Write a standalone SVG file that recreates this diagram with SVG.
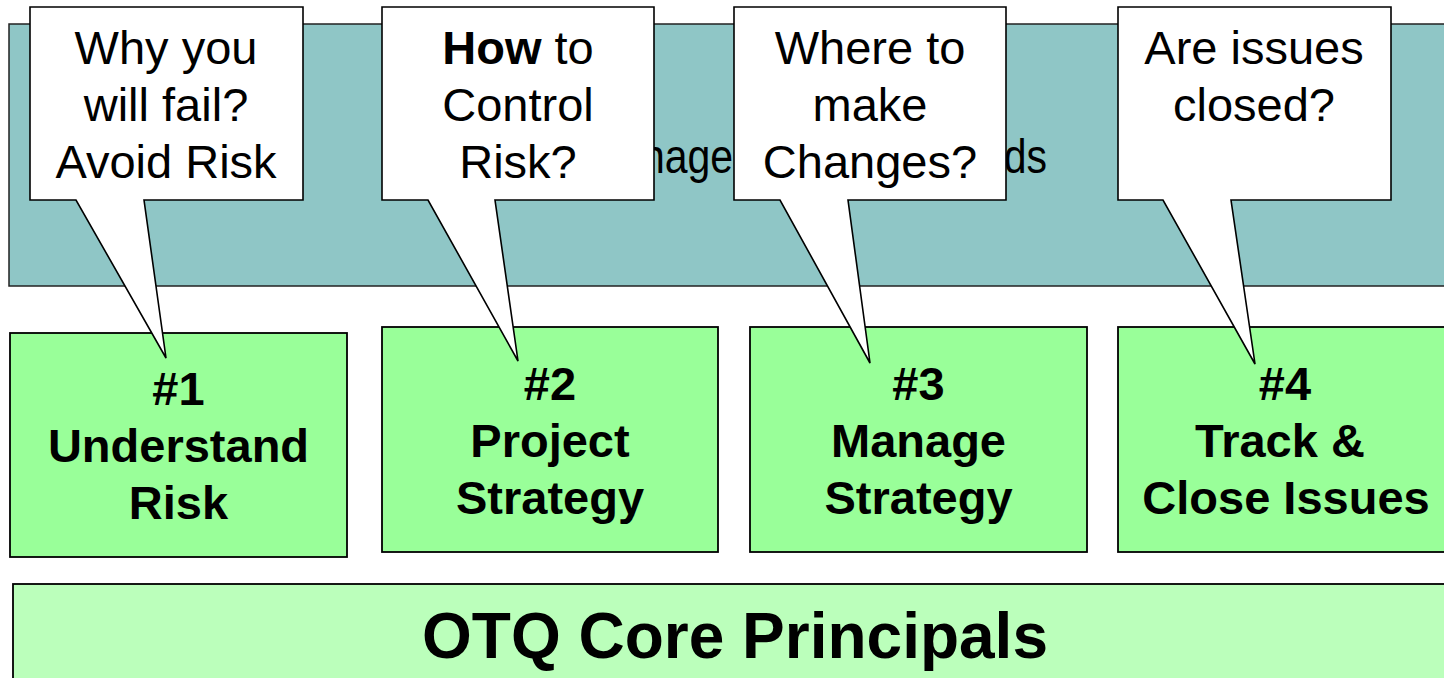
<svg xmlns="http://www.w3.org/2000/svg" width="1444" height="678" viewBox="0 0 1444 678">
<style>
.banner{fill:#8fc6c6;stroke:#222;stroke-width:1.5}
.step{fill:#99ff99;stroke:#000;stroke-width:1.8}
.core{fill:#bbffbb;stroke:#000;stroke-width:1.8}
.callout{fill:#fff;stroke:#000;stroke-width:1.6;stroke-linejoin:miter}
.ct{font-family:"Liberation Sans",Arial,sans-serif;font-size:47px;fill:#000;text-anchor:middle}
.st{font-family:"Liberation Sans",Arial,sans-serif;font-size:47px;font-weight:bold;fill:#000;text-anchor:middle}
.bt{font-family:"Liberation Sans",Arial,sans-serif;font-size:48px;fill:#000}
.core-t{font-family:"Liberation Sans",Arial,sans-serif;font-size:64px;font-weight:bold;fill:#000;text-anchor:middle}
</style>
<rect width="1444" height="678" fill="#fff"/>
<g id="banner">
<rect class="banner" x="9" y="24" width="1450" height="262"/>
<text class="bt" x="585" y="173" textLength="239" lengthAdjust="spacingAndGlyphs">Management</text>
<text class="bt" x="860" y="173" textLength="187" lengthAdjust="spacingAndGlyphs">Standards</text>
</g>
<g id="step1">
<rect class="step" x="10" y="333" width="337" height="224"/>
<text class="st" x="178.5" y="405">#1</text>
<text class="st" x="178.5" y="462">Understand</text>
<text class="st" x="178.5" y="519">Risk</text>
</g>
<g id="step2">
<rect class="step" x="382" y="327" width="336" height="225"/>
<text class="st" x="550" y="400">#2</text>
<text class="st" x="550" y="457">Project</text>
<text class="st" x="550" y="514">Strategy</text>
</g>
<g id="step3">
<rect class="step" x="750" y="327" width="337" height="225"/>
<text class="st" x="918.5" y="400">#3</text>
<text class="st" x="918.5" y="457">Manage</text>
<text class="st" x="918.5" y="514">Strategy</text>
</g>
<g id="step4">
<rect class="step" x="1118" y="327" width="340" height="225"/>
<text class="st" x="1285" y="400">#4</text>
<text class="st" x="1280" y="457">Track &amp;</text>
<text class="st" x="1286" y="514">Close Issues</text>
</g>
<g id="core">
<rect class="core" x="13" y="584" width="1450" height="110"/>
<text class="core-t" x="735" y="658">OTQ Core Principals</text>
</g>
<g id="connectors">
<g id="callout1">
<path class="callout" d="M30,7 H303 V200 H144 L166,358 L76,200 H30 Z"/>
<text class="ct" x="166" y="64">Why you</text>
<text class="ct" x="166" y="121">will fail?</text>
<text class="ct" x="166" y="178">Avoid Risk</text>
</g>
<g id="callout2">
<path class="callout" d="M382,7 H654 V200 H495 L518,361 L428,200 H382 Z"/>
<text class="ct" x="518" y="64"><tspan font-weight="bold">How</tspan> to</text>
<text class="ct" x="518" y="121">Control</text>
<text class="ct" x="518" y="178">Risk?</text>
</g>
<g id="callout3">
<path class="callout" d="M734,7 H1006 V200 H848 L870,363 L780,200 H734 Z"/>
<text class="ct" x="870" y="64">Where to</text>
<text class="ct" x="870" y="121">make</text>
<text class="ct" x="870" y="178">Changes?</text>
</g>
<g id="callout4">
<path class="callout" d="M1118,7 H1391 V200 H1231 L1255,364 L1163,200 H1118 Z"/>
<text class="ct" x="1254" y="64">Are issues</text>
<text class="ct" x="1254" y="121">closed?</text>
</g>
</g>
</svg>
